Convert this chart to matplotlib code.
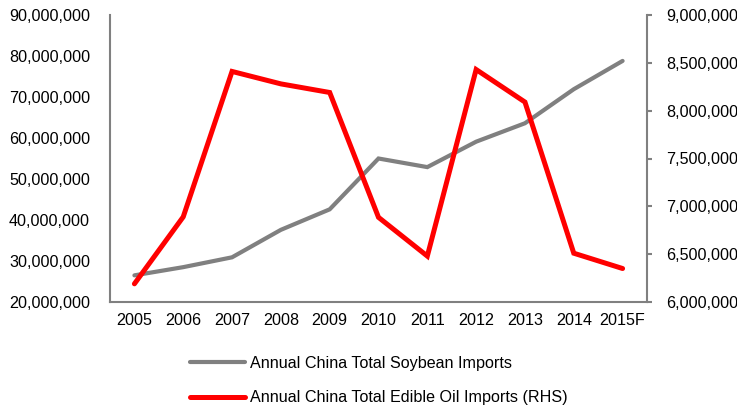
import matplotlib
matplotlib.use("Agg")
from matplotlib import pyplot as plt
from matplotlib.ticker import FuncFormatter
import numpy as np

years = ["2005", "2006", "2007", "2008", "2009", "2010", "2011", "2012", "2013", "2014", "2015F"]
soybean = [26.5e6, 28.5e6, 30.9e6, 37.6e6, 42.6e6, 55.0e6, 52.9e6, 59.1e6, 63.6e6, 71.9e6, 78.8e6]
edible_oil = [6.19e6, 6.89e6, 8.41e6, 8.28e6, 8.19e6, 6.885e6, 6.48e6, 8.43e6, 8.09e6, 6.51e6, 6.35e6]

soy_label = "Annual China Total Soybean Imports"
oil_label = "Annual China Total Edible Oil Imports (RHS)"

FS = 11.6
plt.rcParams['font.family'] = ['Liberation Sans', 'DejaVu Sans']
plt.rcParams['font.size'] = FS

GRAY = "#808080"
RED = "#ff0000"

fig = plt.figure(figsize=(7.37, 4.08), dpi=100)
ax = fig.add_axes([110/737, 1 - 302/408, (647 - 110)/737, (302 - 15)/408])
ax2 = ax.twinx()

x = np.arange(len(years))
l1, = ax.plot(x, soybean, color=GRAY, lw=3.0, solid_capstyle='round', solid_joinstyle='miter', zorder=2)
l2, = ax2.plot(x, edible_oil, color=RED, lw=3.6, solid_capstyle='round', solid_joinstyle='miter', zorder=3)

ax.set_xlim(-0.5, 10.5)
ax.set_ylim(20e6, 90e6)
ax.set_yticks(np.arange(20e6, 90e6 + 1, 10e6))
ax2.set_ylim(6e6, 9e6)
ax2.set_yticks(np.arange(6e6, 9e6 + 1, 0.5e6))

fmt = FuncFormatter(lambda v, p: f"{v:,.0f}")
ax.yaxis.set_major_formatter(fmt)
ax2.yaxis.set_major_formatter(fmt)

ax.set_xticks(x)
ax.set_xticklabels(years)

for a in (ax, ax2):
    for s in a.spines.values():
        s.set_visible(False)
    a.tick_params(colors="#000000", labelsize=FS)

ax.spines['left'].set_visible(True)
ax.spines['bottom'].set_visible(True)
ax2.spines['right'].set_visible(True)
for s in (ax.spines['left'], ax.spines['bottom'], ax2.spines['right']):
    s.set_color(GRAY)
    s.set_linewidth(1.5)

ax.tick_params(axis='y', length=0, pad=14.4)
ax.tick_params(axis='x', length=0, pad=8.0)
ax2.tick_params(axis='y', direction='out', length=3.6, width=1.5, color=GRAY, pad=10)

fig.legend([l1, l2], [soy_label, oil_label], loc='center left',
           bbox_to_anchor=(190/737, 1 - 380.5/408), frameon=False,
           borderpad=0, borderaxespad=0, handlelength=3.4, handletextpad=0.3,
           labelspacing=1.2, fontsize=FS)

fig.savefig("out.png", dpi=100)
